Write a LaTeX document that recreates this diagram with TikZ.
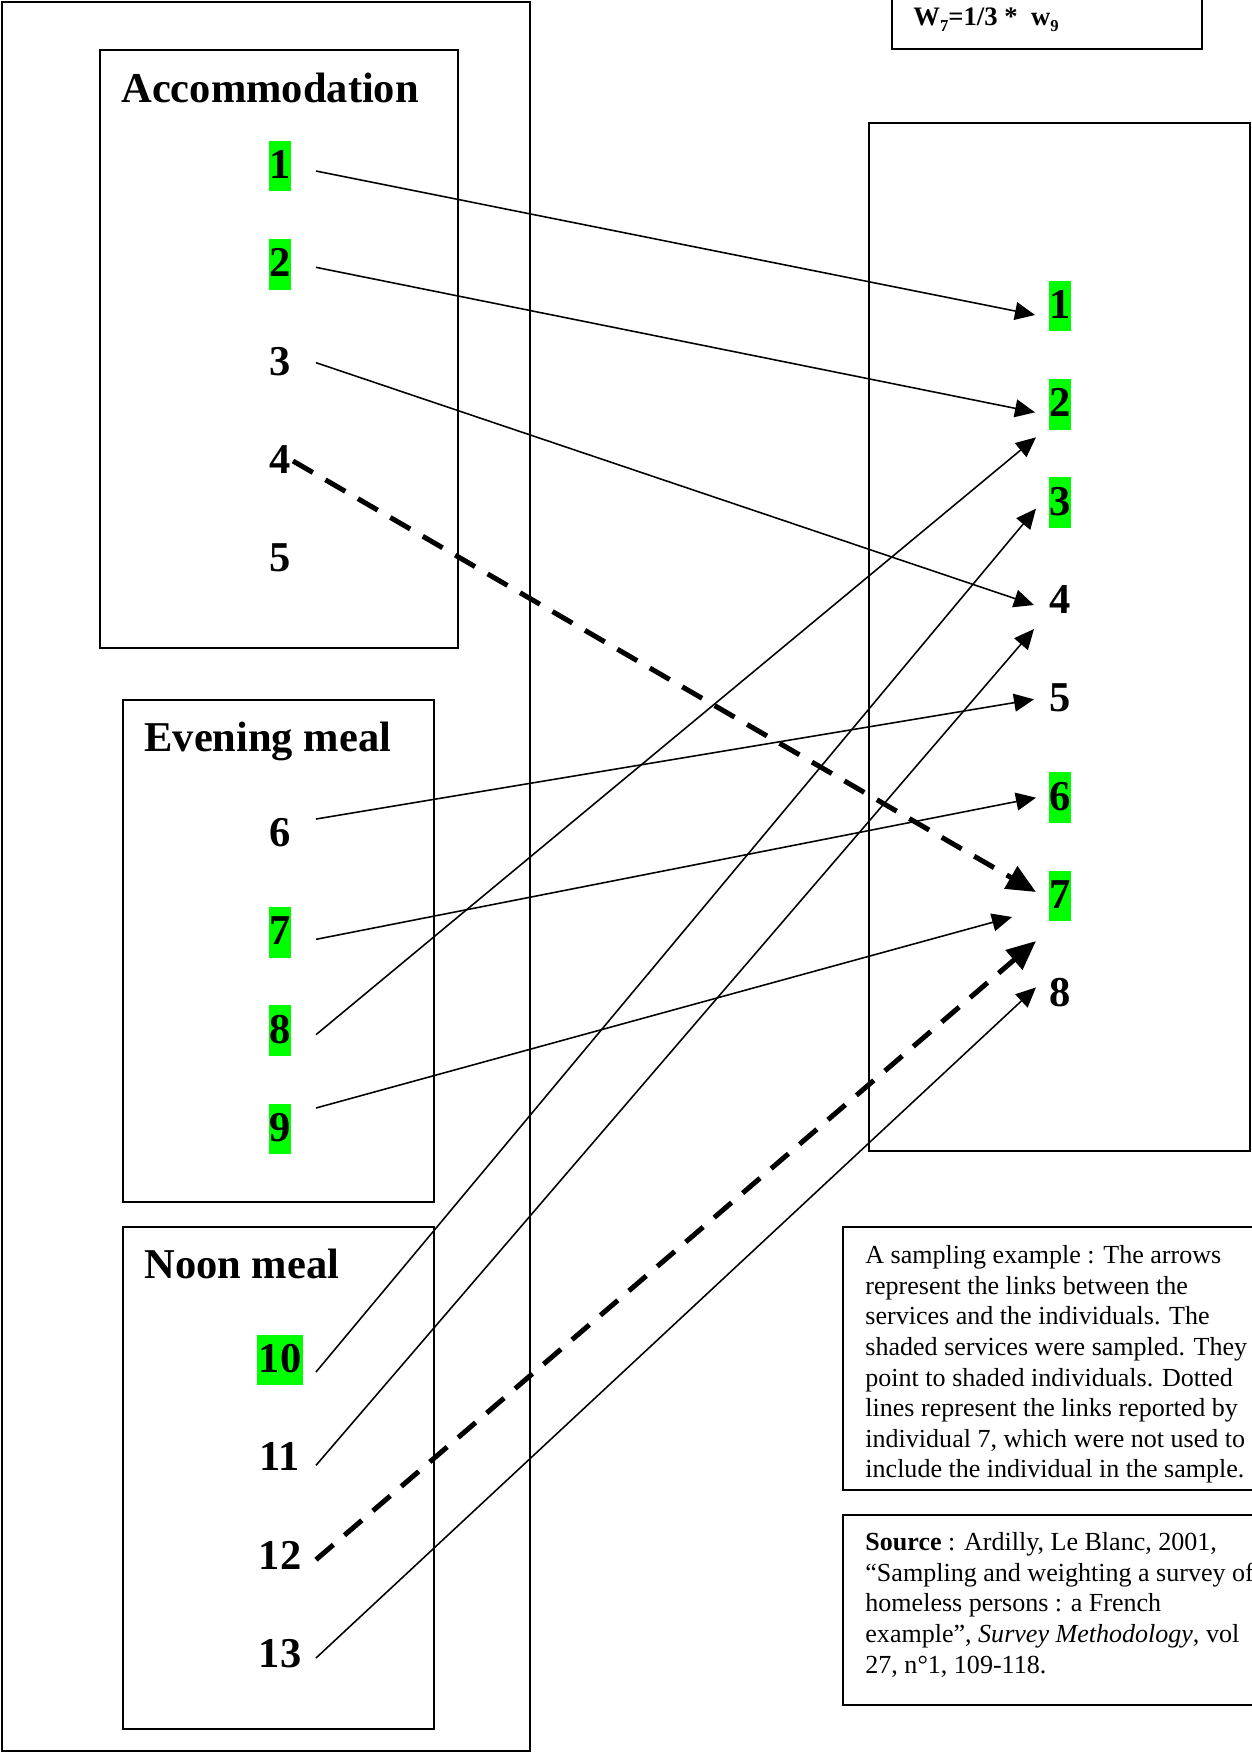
\documentclass[tikz,border=0pt]{standalone}
\usepackage{fontspec}
\setmainfont{Liberation Serif}
\usetikzlibrary{arrows.meta,positioning}
\definecolor{hitgreen}{RGB}{0,255,0}
\newcommand{\numfont}{\fontsize{20.4}{21}\selectfont\bfseries}
\newcommand{\wsub}[1]{\raisebox{-3.2pt}{\fontsize{8}{8}\selectfont\bfseries #1}}
\tikzset{
  num/.style={font=\numfont,inner xsep=0pt,inner ysep=0pt,text height=18.2pt,text depth=6.2pt},
  hit/.style={num,fill=hitgreen},
  box/.style={draw,line width=0.7pt},
  link/.style={line width=0.75pt,-{Triangle[length=9.6pt,width=8.6pt]}},
  dlink/.style={line width=2.4pt,dash pattern=on 11pt off 7pt,-{Triangle[length=14pt,width=12pt]}},
  grp/.style={font=\numfont,inner sep=0pt,anchor=base west},
  note/.style={font=\fontsize{12.5}{14.7}\selectfont,inner sep=0pt,anchor=north west,align=left}
}
\begin{document}
\begin{tikzpicture}[x=0.48pt,y=-0.48pt,node distance=47.2pt,on grid]
    \useasboundingbox (0,0) rectangle (1252,1753);
    \clip (0,0) rectangle (1252,1753);
    \draw[box] (2,2) rectangle (530,1751);
    \draw[box] (100,50) rectangle (458,648);
    \draw[box] (123,700) rectangle (434,1202);
    \draw[box] (123,1227) rectangle (434,1729);
    \draw[box] (869,123) rectangle (1250,1151);
    \draw[box] (892,-20) rectangle (1202,49);
    \draw[box] (843,1227) rectangle (1270,1490);
    \draw[box] (843,1515) rectangle (1270,1705);

    \node[grp,font=\fontsize{12.8}{14}\selectfont\bfseries] (wt) at (913,25) {W\wsub{7}=1/3 *\ \ w\wsub{9}};

    \node[grp] (acc) at (121,102) {Accommodation};
    \node[hit] (l1) at (280,166) {1};
    \node[hit,below=of l1] (l2) {2};
    \node[num,below=of l2] (l3) {3};
    \node[num,below=of l3] (l4) {4};
    \node[num,below=of l4] (l5) {5};

    \node[grp] (eve) at (144,751) {Evening meal};
    \node[num] (l6) at (280,834) {6};
    \node[hit,below=of l6] (l7) {7};
    \node[hit,below=of l7] (l8) {8};
    \node[hit,below=of l8] (l9) {9};

    \node[grp] (noon) at (144,1278) {Noon meal};
    \node[hit,inner xsep=1pt] (l10) at (280,1360) {10};
    \node[num,below=of l10] (l11) {11};
    \node[num,below=of l11] (l12) {12};
    \node[num,below=of l12] (l13) {13};

    \node[hit] (r1) at (1060,306) {1};
    \node[hit,below=of r1] (r2) {2};
    \node[hit,below=of r2] (r3) {3};
    \node[num,below=of r3] (r4) {4};
    \node[num,below=of r4] (r5) {5};
    \node[hit,below=of r5] (r6) {6};
    \node[hit,below=of r6] (r7) {7};
    \node[num,below=of r7] (r8) {8};

    \draw[link] ([shift={(36,5)}]l1.center) -- ([shift={(-25,9)}]r1.center);
    \draw[link] ([shift={(36,3)}]l2.center) -- ([shift={(-25,8)}]r2.center);
    \draw[link] ([shift={(36,0)}]l3.center) -- ([shift={(-26,4)}]r4.center);
    \draw[dlink] ([shift={(13,0)}]l4.center) -- ([shift={(-24,-4)}]r7.center);
    \draw[link] ([shift={(36,-15)}]l6.center) -- ([shift={(-26,0)}]r5.center);
    \draw[link] ([shift={(36,7)}]l7.center) -- ([shift={(-24,0)}]r6.center);
    \draw[link] ([shift={(36,4)}]l8.center) -- ([shift={(-24,33)}]r2.center);
    \draw[link] ([shift={(36,-21)}]l9.center) -- ([shift={(-48,21)}]r7.center);
    \draw[link] ([shift={(36,12)}]l10.center) -- ([shift={(-24,6)}]r3.center);
    \draw[link] ([shift={(36,7)}]l11.center) -- ([shift={(-26,28)}]r4.center);
    \draw[dlink] ([shift={(36,3)}]l12.center) -- ([shift={(-24,45)}]r7.center);
    \draw[link] ([shift={(36,3)}]l13.center) -- ([shift={(-24,-7)}]r8.center);

    \node[note] (legend) at (865,1245) {A sampling example : The arrows\\
      represent the links between the\\
      services and the individuals. The\\
      shaded services were sampled. They\\
      point to shaded individuals. Dotted\\
      lines represent the links reported by\\
      individual 7, which were not used to\\
      include the individual in the sample.};
    \node[note] (source) at (865,1532) {\textbf{Source} : Ardilly, Le Blanc, 2001,\\
      ``Sampling and weighting a survey of\\
      homeless persons : a French\\
      example'', \textit{Survey Methodology}, vol\\
      27, n°1, 109-118.};
\end{tikzpicture}
\end{document}
